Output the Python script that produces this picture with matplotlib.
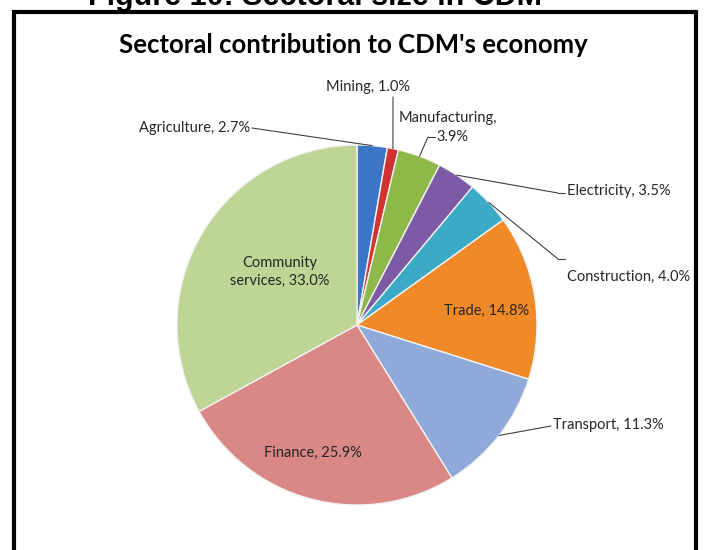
import matplotlib
matplotlib.use("Agg")
import matplotlib.pyplot as plt
from matplotlib.patches import Rectangle
import numpy as np

sectors = ["Agriculture", "Mining", "Manufacturing", "Electricity", "Construction",
           "Trade", "Transport", "Finance", "Community services"]
shares = [2.7, 1.0, 3.9, 3.5, 4.0, 14.8, 11.3, 25.9, 33.0]
colors = ["#3B77C6", "#D23331", "#8DB948", "#7C5AA5", "#3AAAC6",
          "#F08A28", "#8FA9D8", "#D98886", "#BED596"]

W, H = 707, 550
plt.rcParams['font.family'] = ['Lato', 'DejaVu Sans']

def fx(x):
    return x / W

def fy(y):
    return 1 - y / H

fig = plt.figure(figsize=(W / 100, H / 100), dpi=100)
fig.patch.set_facecolor("white")

# caption above the box, mostly cut off by the top edge
fig.text(fx(315), fy(5), "Figure 10: Sectoral size in CDM", fontsize=22,
         fontweight="bold", ha="center", va="baseline",
         family=["Liberation Sans", "DejaVu Sans"])

# black frame (bottom edge lies outside the picture)
fig.patches.append(Rectangle((fx(14), fy(600)), fx(696) - fx(14), fy(12) - fy(600),
                             transform=fig.transFigure, fill=False,
                             edgecolor="black", linewidth=3))

fig.text(fx(353), fy(45), "Sectoral contribution to CDM's economy",
         fontsize=18.5, fontweight="bold", ha="center", va="center")

cx, cy, r = 357, 325, 180
ax = fig.add_axes([fx(cx - r), fy(cy + r), 2 * r / W, 2 * r / H])
wedges, _ = ax.pie(shares, colors=colors, startangle=90, counterclock=False,
                   wedgeprops=dict(edgecolor="#f2f2f2", linewidth=1.0))
ax.set_xlim(-1, 1)
ax.set_ylim(-1, 1)
ax.axis("off")

def edge_point(i):
    w = wedges[i]
    a = np.deg2rad((w.theta1 + w.theta2) / 2)
    return np.cos(a), np.sin(a)

lab = [f"{s}, {v:.1f}%" for s, v in zip(sectors, shares)]
fs = 10.5
tc = "#262626"
lc = "#404040"

# outside labels: (index, text, text x, text y, ha, line start x, line start y, kink x)
outside = [
    (0, lab[0], 250, 128, "right", 252, 128, None),
    (1, lab[1], 368, 87, "center", 393, 97, None),
    (3, lab[3], 567, 191, "left", 565, 193, 558),
    (4, lab[4], 567, 277, "left", 565, 259, 558),
    (6, lab[6], 553, 425, "left", 551, 426, None),
]
for i, t, x, y, ha, lx, ly, kink in outside:
    fig.text(fx(x), fy(y), t, fontsize=fs, ha=ha, va="center", color=tc)
    start = (fx(lx), fy(ly))
    if kink is not None:
        fig.add_artist(plt.Line2D([fx(lx), fx(kink)], [fy(ly), fy(ly)],
                                  transform=fig.transFigure, color=lc, lw=0.8))
        start = (fx(kink), fy(ly))
    ax.annotate("", xy=edge_point(i), xycoords="data", xytext=start,
                textcoords="figure fraction",
                arrowprops=dict(arrowstyle="-", color=lc, lw=0.8,
                                shrinkA=0, shrinkB=0))

# manufacturing label on two lines
fig.text(fx(448), fy(118), "Manufacturing,", fontsize=fs, ha="center", va="center", color=tc)
fig.text(fx(452), fy(137), f"{shares[2]:.1f}%", fontsize=fs, ha="center", va="center", color=tc)
fig.add_artist(plt.Line2D([fx(435), fx(428)], [fy(137), fy(137)],
                          transform=fig.transFigure, color=lc, lw=0.8))
ax.annotate("", xy=edge_point(2), xycoords="data", xytext=(fx(428), fy(137)),
            textcoords="figure fraction",
            arrowprops=dict(arrowstyle="-", color=lc, lw=0.8, shrinkA=0, shrinkB=0))

# inside labels
fig.text(fx(487), fy(311), lab[5], fontsize=fs, ha="center", va="center", color=tc)
fig.text(fx(313), fy(453), lab[7], fontsize=fs, ha="center", va="center", color=tc)
fig.text(fx(280), fy(272), "Community\nservices, %.1f%%" % shares[8], fontsize=fs,
         ha="center", va="center", color=tc, linespacing=1.3)

fig.savefig("out.png", dpi=100)
